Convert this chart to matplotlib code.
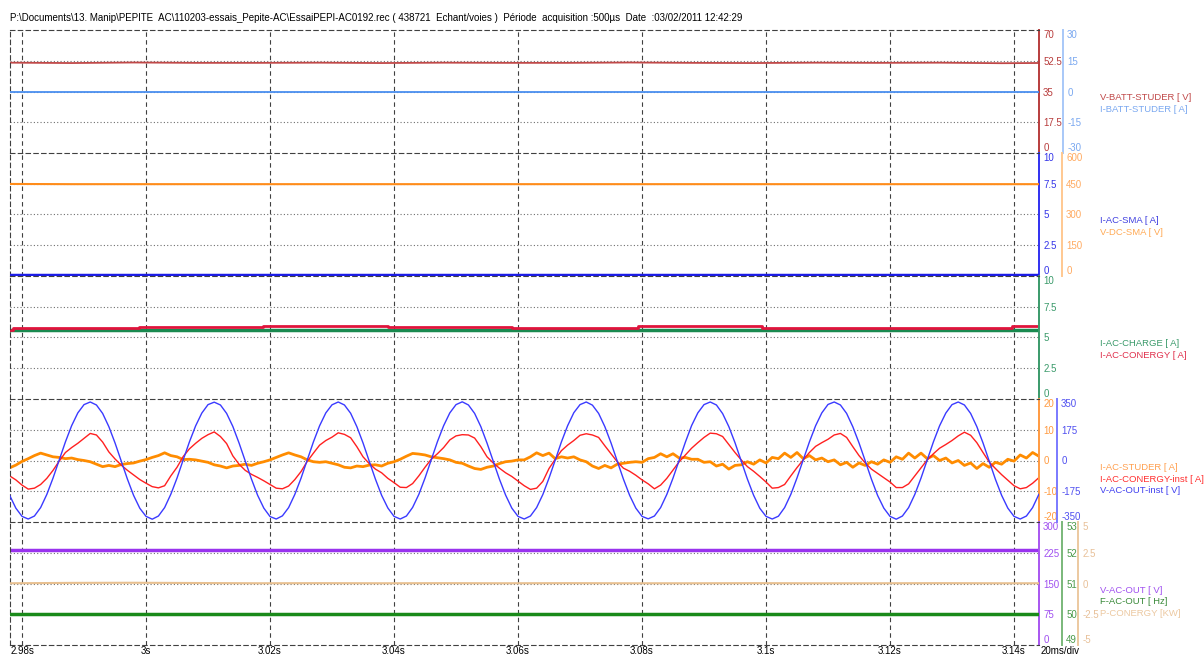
import numpy as np
import matplotlib
matplotlib.use("Agg")
import matplotlib.pyplot as plt

plt.rcParams['font.family'] = ['Liberation Sans', 'DejaVu Sans']
plt.rcParams['font.size'] = 7

header = ("P:\\Documents\\13. Manip\\PEPITE  AC\\110203-essais_Pepite-AC\\EssaiPEPI-AC0192.rec "
          "( 438721  Echant/voies )  Période  acquisition :500µs  Date  :03/02/2011 12:42:29")

# time base : one reading every 1 ms, slow channels every 10 ms
t_fast = 2.978 + 0.001 * np.arange(167)
t_slow = 2.978 + 0.01 * np.arange(18)
xticks = [2.98, 3.0, 3.02, 3.04, 3.06, 3.08, 3.1, 3.12, 3.14]
xlabels = ["2.98s", "3s", "3.02s", "3.04s", "3.06s", "3.08s", "3.1s", "3.12s", "3.14s"]

# panel 1
v_batt = [51.4, 51.2, 51.5, 51.3, 51.3, 51.4, 51.2, 51.4, 51.3, 51.3, 51.5, 51.3, 51.2, 51.4, 51.3, 51.4, 51.1, 51.3]
i_batt = [0.0, 0.0, 0.0, 0.0, 0.0, 0.0, 0.0, 0.0, 0.0, 0.0, 0.0, 0.0, 0.0, 0.0, 0.0, 0.0, 0.0, 0.0]
# panel 2
i_ac_sma = [0.1, 0.1, 0.1, 0.1, 0.1, 0.1, 0.1, 0.1, 0.1, 0.1, 0.1, 0.1, 0.1, 0.1, 0.1, 0.1, 0.1, 0.1]
v_dc_sma = [449, 448, 448, 448, 448, 448, 448, 448, 448, 448, 448, 448, 448, 448, 448, 448, 448, 448]
# panel 3
i_charge = [5.58, 5.58, 5.58, 5.58, 5.58, 5.58, 5.58, 5.58, 5.58, 5.58, 5.58, 5.58, 5.58, 5.58, 5.58, 5.58, 5.58, 5.58]
t_steps = [2.978, 2.9785, 2.9989, 3.0189, 3.039, 3.059, 3.0794, 3.0994, 3.1397, 3.145]
i_conergy = [5.62, 5.80, 5.86, 5.92, 5.86, 5.76, 5.92, 5.80, 5.90, 5.90]
# panel 4
i_studer = [-2.4, -1.5, -0.3, 0.6, 1.6, 2.4, 1.8, 1.2, 1.0, 0.6, 0.8, 0.3, 0.0, -0.4, -1.2, -2.0, -1.6, -2.0, -1.3, -1.0,
            -0.8, -0.2, 0.3, 1.0, 1.6, 2.5, 1.6, 1.2, 0.3, 0.4, 0.2, -0.2, -0.6, -1.4, -1.8, -2.4, -1.8, -1.6, -1.2, -1.6,
            -0.9, -0.4, 0.2, 1.0, 1.8, 2.5, 1.8, 1.2, 0.2, -0.4, -0.6, -0.4, -0.9, -1.4, -2.2, -2.4, -1.8, -2.0, -1.5, -1.4,
            -1.8, -0.9, -0.4, 0.4, 1.4, 2.3, 2.1, 1.8, 1.2, 0.9, 0.6, 0.2, -0.6, -0.9, -1.8, -2.6, -2.9, -2.2, -1.8, -1.0,
            -0.4, -0.2, 0.2, 0.2, 1.2, 2.5, 1.6, 2.4, 0.6, 1.2, 0.8, 1.2, 0.2, -0.4, -1.8, -2.6, -1.6, -2.4, -1.2, -0.9,
            -0.6, -0.4, -0.6, 0.6, 1.0, 2.2, 1.2, 2.2, 0.8, 1.0, 0.4, 0.4, -0.6, -0.4, -1.8, -1.2, -2.8, -1.6, -1.4, -0.4,
            -1.2, 0.2, -0.8, 1.0, 0.6, 2.4, 1.0, 2.6, 0.6, 1.6, 0.2, 0.8, -0.4, 0.2, -1.4, -0.6, -2.2, -0.8, -1.6, -0.4,
            -1.2, 0.2, -0.6, 1.2, 0.4, 2.4, 0.8, 2.4, 0.6, 1.6, 0.0, 0.8, -0.8, 0.0, -1.6, -0.8, -2.6, -1.0, -2.2, -0.6,
            -1.2, 0.4, -0.2, 1.8, 0.8, 2.6, 1.4]
i_conergy_inst = [-5.0, -6.3, -8.0, -9.3, -9.0, -7.8, -5.8, -3.2, -0.2, 2.6, 4.2, 5.6, 7.2, 8.8, 8.3, 6.0, 2.8, 0.5, -1.5, -3.2,
                  -4.7, -6.2, -7.4, -8.5, -8.9, -8.2, -5.0, -2.2, 1.3, 3.8, 5.6, 7.2, 8.4, 9.3, 7.8, 5.5, 1.5, -1.2, -3.2, -4.5,
                  -5.5, -6.6, -7.8, -9.0, -9.2, -8.3, -6.2, -3.6, -0.3, 2.4, 5.0, 6.5, 7.6, 9.0, 8.5, 7.4, 4.5, 1.2, -1.0, -2.8,
                  -4.0, -5.8, -7.2, -8.7, -8.8, -7.5, -5.0, -2.2, 0.4, 2.2, 4.2, 6.7, 8.0, 8.4, 8.3, 7.3, 4.5, 1.2, -0.8, -2.5,
                  -4.0, -5.2, -6.7, -8.2, -9.4, -9.0, -6.8, -2.6, 0.4, 3.2, 5.0, 6.5, 8.2, 8.7, 8.3, 7.5, 4.8, 2.2, -0.4, -2.5,
                  -3.5, -4.8, -6.3, -7.6, -9.2, -8.0, -5.8, -3.1, -0.4, 1.8, 4.0, 5.8, 7.5, 8.9, 8.7, 7.8, 5.2, 2.6, 0.2, -2.0,
                  -3.5, -5.2, -7.0, -9.0, -8.8, -7.8, -5.0, -2.3, 0.2, 2.6, 4.6, 5.8, 6.9, 8.3, 8.8, 7.5, 4.5, 1.6, -0.8, -2.8,
                  -4.2, -5.6, -7.0, -8.8, -8.8, -7.6, -5.0, -2.4, 0.2, 2.2, 4.0, 5.2, 6.5, 8.0, 9.2, 8.2, 5.8, 2.6, -0.5, -2.6,
                  -4.6, -6.4, -8.2, -9.2, -8.8, -7.4, -5.6]
v_ac_out_inst = [-198, -271, -318, -333, -316, -268, -193, -100, 3, 106, 198, 271, 318, 333, 316, 268, 193, 100, -3, -106,
                 -199, -272, -318, -334, -316, -268, -192, -100, 4, 106, 197, 270, 318, 332, 316, 268, 194, 100, -3, -105,
                 -198, -271, -319, -333, -315, -268, -193, -101, 3, 106, 198, 271, 317, 333, 316, 269, 193, 100, -4, -106,
                 -198, -270, -318, -333, -316, -267, -193, -100, 3, 107, 198, 271, 318, 334, 316, 268, 193, 99, -3, -106,
                 -197, -271, -318, -333, -316, -268, -194, -100, 2, 106, 198, 272, 318, 333, 315, 268, 193, 100, -3, -106,
                 -198, -271, -318, -332, -316, -268, -193, -100, 3, 105, 199, 271, 318, 333, 316, 267, 193, 101, -3, -106,
                 -198, -272, -318, -333, -317, -268, -193, -99, 3, 106, 198, 271, 319, 333, 316, 268, 192, 100, -2, -106,
                 -199, -271, -318, -334, -316, -268, -193, -100, 3, 106, 198, 270, 318, 333, 316, 268, 193, 100, -3, -107,
                 -198, -271, -318, -333, -316, -268, -193]
# panel 5
v_ac_out = [232, 232, 232, 232, 232, 232, 232, 232, 232, 232, 232, 232, 232, 232, 232, 232, 232, 232]
f_ac_out = [50.0, 50.0, 50.0, 50.0, 50.0, 50.0, 50.0, 50.0, 50.0, 50.0, 50.0, 50.0, 50.0, 50.0, 50.0, 50.0, 50.0, 50.0]
p_conergy = [0.02, 0.05, 0.06, 0.04, 0.02, 0.03, 0.02, 0.03, 0.02, 0.03, 0.02, 0.02, 0.03, 0.02, 0.02, 0.03, 0.02, 0.02]

W, H = 1204, 655
fig = plt.figure(figsize=(W / 100, H / 100), dpi=100)
top, bottom, left, right = 30, 645, 10, 1039
ph = (bottom - top) / 5
dash = (0, (4, 3))
PT = 0.72  # points per pixel at 100 dpi

def fx(x):
    return x / W

def fy(y):
    return 1 - y / H

def style_scale(a, lo, hi, color, lcolor, outward_px=None):
    a.set_ylim(lo, hi)
    vals = np.linspace(lo, hi, 5)
    a.set_yticks(vals, labels=[f"{v:g}" for v in vals])
    a.yaxis.set_ticks_position('right')
    a.tick_params(axis='y', length=0, pad=3, labelcolor=lcolor, labelsize=7,
                  labelleft=False, labelright=True)
    a.spines['right'].set_color(color)
    a.spines['right'].set_linewidth(1.4)
    if outward_px is not None:
        a.spines['right'].set_position(('outward', outward_px * PT))
        for s in ['top', 'bottom', 'left']:
            a.spines[s].set_visible(False)
    labs = a.get_yticklabels()
    labs[0].set_va('bottom')
    labs[-1].set_va('top')

axes = []
for i in range(5):
    y0 = top + i * ph
    ax = fig.add_axes([fx(left), fy(y0 + ph), fx(right - left), ph / H])
    ax.set_xlim(2.97806, 3.14403)
    ax.set_xticks(xticks, labels=xlabels)
    ax.tick_params(axis='x', length=0, labelbottom=(i == 4), pad=1, labelsize=7)
    ax.grid(axis='x', linestyle=dash, color='#404040', lw=0.8)
    ax.grid(axis='y', linestyle=(0, (1, 2)), color='#707070', lw=0.8)
    for s in ['left', 'top', 'bottom']:
        ax.spines[s].set_linestyle(dash)
        ax.spines[s].set_color('#404040')
        ax.spines[s].set_linewidth(0.8)
    if i < 4:
        ax.spines['bottom'].set_visible(False)
    axes.append(ax)

def hide_edge_grid(ax):
    gl = ax.get_ygridlines()
    gl[0].set_visible(False)
    gl[-1].set_visible(False)

# panel 1
ax = axes[0]
tw = ax.twinx()
style_scale(ax, 0, 70, '#b83c3c', '#b83c3c')
hide_edge_grid(ax)
ax.plot(t_slow, v_batt, color='#c04848', lw=1.3)
style_scale(tw, -30, 30, '#a8c8f8', '#7aa8f0', outward_px=24)
tw.plot(t_slow, i_batt, color='#4a8ff0', lw=1.3)

# panel 2
ax = axes[1]
tw = ax.twinx()
style_scale(ax, 0, 10, '#3030f0', '#3535e8')
hide_edge_grid(ax)
ax.plot(t_slow, i_ac_sma, color='#1c1ce8', lw=2.5, zorder=5)
style_scale(tw, 0, 600, '#ffc890', '#ffaa60', outward_px=23)
tw.plot(t_slow, v_dc_sma, color='#ff8c1a', lw=1.5)

# panel 3
ax = axes[2]
style_scale(ax, 0, 10, '#3a9a6a', '#3a9a6a')
hide_edge_grid(ax)
ax.plot(t_slow, i_charge, color='#1a8a50', lw=2.5)
ax.plot(t_steps, i_conergy, color='#e0143c', lw=2, drawstyle='steps-post')

# panel 4
ax = axes[3]
tw = ax.twinx()
style_scale(ax, -20, 20, '#ff9a40', '#ff9a40')
hide_edge_grid(ax)
ax.plot(t_fast, i_studer, color='#ff8c00', lw=2)
ax.plot(t_fast, i_conergy_inst, color='#ff2020', lw=1)
style_scale(tw, -350, 350, '#7a7aff', '#5050f0', outward_px=18)
tw.plot(t_fast, v_ac_out_inst, color='#3a3aff', lw=1)

# panel 5
ax = axes[4]
tw = ax.twinx()
tw2 = ax.twinx()
style_scale(ax, 0, 300, '#a855f0', '#a050f0')
hide_edge_grid(ax)
ax.plot(t_slow, v_ac_out, color='#9933ee', lw=2.5)
style_scale(tw, 49, 53, '#7ab87a', '#4a9a4a', outward_px=23)
tw.plot(t_slow, f_ac_out, color='#1a8a1a', lw=2.5)
style_scale(tw2, -5, 5, '#ecc9a0', '#e8c098', outward_px=39)
tw2.plot(t_slow, p_conergy, color='#e8c090', lw=1.5)

# channel names
names = [
    [("V-BATT-STUDER [ V]", '#c04848'), ("I-BATT-STUDER [ A]", '#7aa8f0')],
    [("I-AC-SMA [ A]", '#4040e0'), ("V-DC-SMA [ V]", '#ffaa55')],
    [("I-AC-CHARGE [ A]", '#3a9a6a'), ("I-AC-CONERGY [ A]", '#e0304c')],
    [("I-AC-STUDER [ A]", '#ffa050'), ("I-AC-CONERGY-inst [ A]", '#ff3030'), ("V-AC-OUT-inst [ V]", '#4040f0')],
    [("V-AC-OUT [ V]", '#a050f0'), ("F-AC-OUT [ Hz]", '#3a8a3a'), ("P-CONERGY [KW]", '#ecc8a0')],
]
for i, group in enumerate(names):
    mid = top + i * ph + ph / 2
    y = mid + 6 if len(group) == 2 else mid + 7
    for name, c in group:
        fig.text(fx(1100), fy(y), name, color=c, fontsize=6.8, va='center', ha='left')
        y += 11.5

fig.text(fx(10), fy(18), header, fontsize=7, va='center', ha='left')
fig.text(fx(1041), fy(651), "20ms/div", fontsize=7, va='center', ha='left')

fig.savefig("out.png", dpi=100, facecolor='white')
